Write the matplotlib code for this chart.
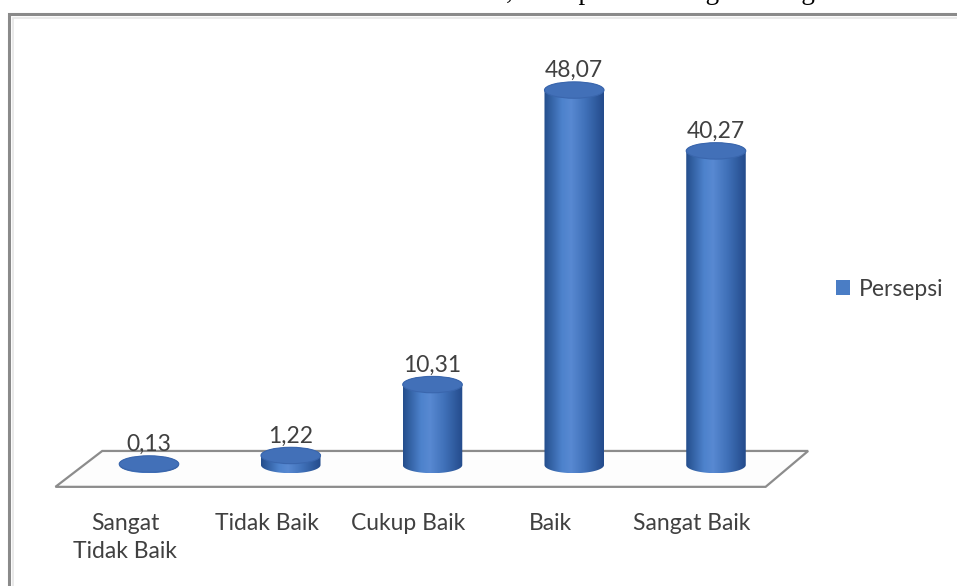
import matplotlib
matplotlib.use("Agg")
import matplotlib.pyplot as plt
import numpy as np
from matplotlib.patches import Polygon, Ellipse, Rectangle, Patch
from matplotlib.colors import LinearSegmentedColormap

# persepsi responden per kategori (%)
categories = ["Sangat\nTidak Baik", "Tidak Baik", "Cukup Baik", "Baik", "Sangat Baik"]
values = [0.13, 1.22, 10.31, 48.07, 40.27]
series_name = "Persepsi"
caption = "Desa di Kecamatan Dente Teladas, Kabupaten Tulang Bawang"

W, H = 957, 586
PX_PER_UNIT = 7.8
BAR_W = 0.42      # cylinder width in category units
RY = 1.05         # half-height of the cylinder caps in value units

body_cmap = LinearSegmentedColormap.from_list(
    "cyl", [(0.0, "#244e8c"), (0.3, "#4d82cc"), (0.45, "#5889d2"),
            (0.7, "#3f70b8"), (1.0, "#244b8b")])
cap_color = "#4270b8"
text_color = "#404040"


def px_box(left, top, width, height):
    return [left / W, 1 - (top + height) / H, width / W, height / H]


fig = plt.figure(figsize=(W / 100, H / 100), dpi=100)
fig.patch.set_facecolor("white")

# text line of the page above the chart (cut off by the image edge)
fig.text(135 / W, 1 + 1 / H, caption, fontfamily="Liberation Serif",
         fontsize=19.5, color="black", va="baseline")

# chart frame
fig.patches.append(Rectangle((9 / W, -0.1), 2, 1 - 14 / H + 0.1, fill=False,
                             edgecolor="#8a8a8a", lw=2.2, transform=fig.transFigure))
fig.patches.append(Rectangle((13 / W, -0.1), 2, 1 - 18 / H + 0.1, fill=False,
                             edgecolor="#e6e6e6", lw=1.2, transform=fig.transFigure))

n = len(categories)
y0, y1 = -8, 55
x_span = 141.75 * (n)
ax = fig.add_axes(px_box(149 - 141.75 / 2, 465 - y1 * PX_PER_UNIT,
                         x_span, (y1 - y0) * PX_PER_UNIT))
ax.axis("off")

# floor of the 3D plot area
floor = Polygon([(-0.33, 1.8), (n - 1 + 0.65, 1.8),
                 (n - 1 + 0.35, -2.8), (-0.66, -2.8)],
                closed=True, facecolor="#fdfdfd", edgecolor="#8c8c8c",
                lw=1.6, zorder=1, clip_on=False)
ax.add_patch(floor)

grad = np.linspace(0, 1, 200).reshape(1, -1)
t_low = np.linspace(np.pi, 2 * np.pi, 60)
t_up = np.linspace(0, np.pi, 60)

for i, v in enumerate(values):
    hw = BAR_W / 2
    # body outline: left side, lower arc of base, right side, upper arc of cap
    pts = [(i - hw, v)]
    pts += [(i + hw * np.cos(t), RY * np.sin(t)) for t in t_low]
    pts += [(i + hw * np.cos(t), v + RY * np.sin(t)) for t in t_up]
    body = Polygon(pts, closed=True, facecolor="none", edgecolor="none",
                   zorder=3, clip_on=False)
    ax.add_patch(body)
    im = ax.imshow(grad, cmap=body_cmap, aspect="auto", zorder=3,
                   extent=(i - hw, i + hw, -RY, v + RY), interpolation="bilinear")
    im.set_clip_path(body)
    cap = Ellipse((i, v), BAR_W, 2 * RY, facecolor=cap_color,
                  edgecolor="#3a66ad", lw=0.8, zorder=4, clip_on=False)
    ax.add_patch(cap)
    ax.text(i, v + RY + 0.1, f"{v:.2f}".replace(".", ","), ha="center",
            va="bottom", fontsize=16.5, fontfamily="Lato", color=text_color,
            zorder=5)
    ax.text(i - 0.17, -6.1, categories[i], ha="center", va="top",
            fontsize=16.5, fontfamily="Lato", color=text_color,
            linespacing=1.45)

ax.set_xlim(-0.5, n - 0.5)
ax.set_ylim(y0, y1)

fig.legend(handles=[Patch(facecolor="#4a7dc5", label=series_name)],
           loc="center left", bbox_to_anchor=(836 / W, 1 - 289 / H),
           frameon=False, handlelength=0.6, handleheight=0.6,
           handletextpad=0.4, borderaxespad=0, borderpad=0,
           prop={"family": "Lato", "size": 16.5}, labelcolor=text_color)

fig.savefig("out.png", dpi=100, facecolor="white")
